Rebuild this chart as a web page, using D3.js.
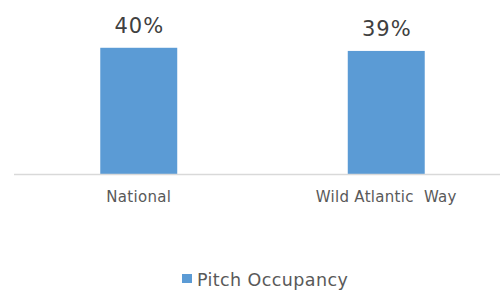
<!DOCTYPE html>
<html>
<head>
<meta charset="utf-8">
<script src="https://cdn.jsdelivr.net/npm/d3@7"></script>
<style>
html,body{margin:0;padding:0;background:#fff;}
svg{display:block;}
text{white-space:pre;}
</style>
</head>
<body>
<svg id="chart" width="500" height="291"></svg>
<script>
const categories = ["National", "Wild Atlantic  Way"];
const values = [0.40, 0.39];
const seriesName = "Pitch Occupancy";

const svg = d3.select("#chart");
const font = "'DejaVu Sans', Verdana, sans-serif";
const barColor = "#5b9bd5";

const x = d3.scaleBand().domain(categories).range([15, 510]).paddingInner(0.689).paddingOuter(0.3445);
const y = d3.scaleLinear().domain([0, 0.45]).range([174, 32]);

// bars
svg.selectAll("rect.bar").data(values).enter().append("rect")
  .attr("class", "bar")
  .attr("x", (d, i) => x(categories[i]))
  .attr("width", x.bandwidth())
  .attr("y", d => y(d))
  .attr("height", d => y(0) - y(d))
  .attr("fill", barColor);

// axis line
svg.append("line")
  .attr("x1", 14).attr("x2", 500)
  .attr("y1", y(0) + 0.5).attr("y2", y(0) + 0.5)
  .attr("stroke", "#d9d9d9").attr("stroke-width", 1.5);

// value labels
svg.selectAll("text.val").data(values).enter().append("text")
  .attr("class", "val")
  .attr("x", (d, i) => x(categories[i]) + x.bandwidth() / 2 + 0.5)
  .attr("y", d => y(d) - 15)
  .attr("text-anchor", "middle")
  .attr("font-family", font)
  .attr("font-size", 21)
  .attr("letter-spacing", 1)
  .attr("fill", "#404040")
  .text(d => d3.format(".0%")(d));

// category labels
svg.selectAll("text.cat").data(categories).enter().append("text")
  .attr("class", "cat")
  .attr("x", d => x(d) + x.bandwidth() / 2)
  .attr("y", 202)
  .attr("text-anchor", "middle")
  .attr("font-family", font)
  .attr("font-size", 15)
  .attr("letter-spacing", 0.3)
  .attr("fill", "#595959")
  .text(d => d);

// legend
const lg = svg.append("g");
lg.append("rect").attr("x", 182).attr("y", 274).attr("width", 10).attr("height", 9).attr("fill", barColor);
lg.append("text").attr("x", 197).attr("y", 286)
  .attr("font-family", font).attr("font-size", 17.5).attr("letter-spacing", 0.4).attr("fill", "#595959")
  .text(seriesName);
</script>
</body>
</html>
